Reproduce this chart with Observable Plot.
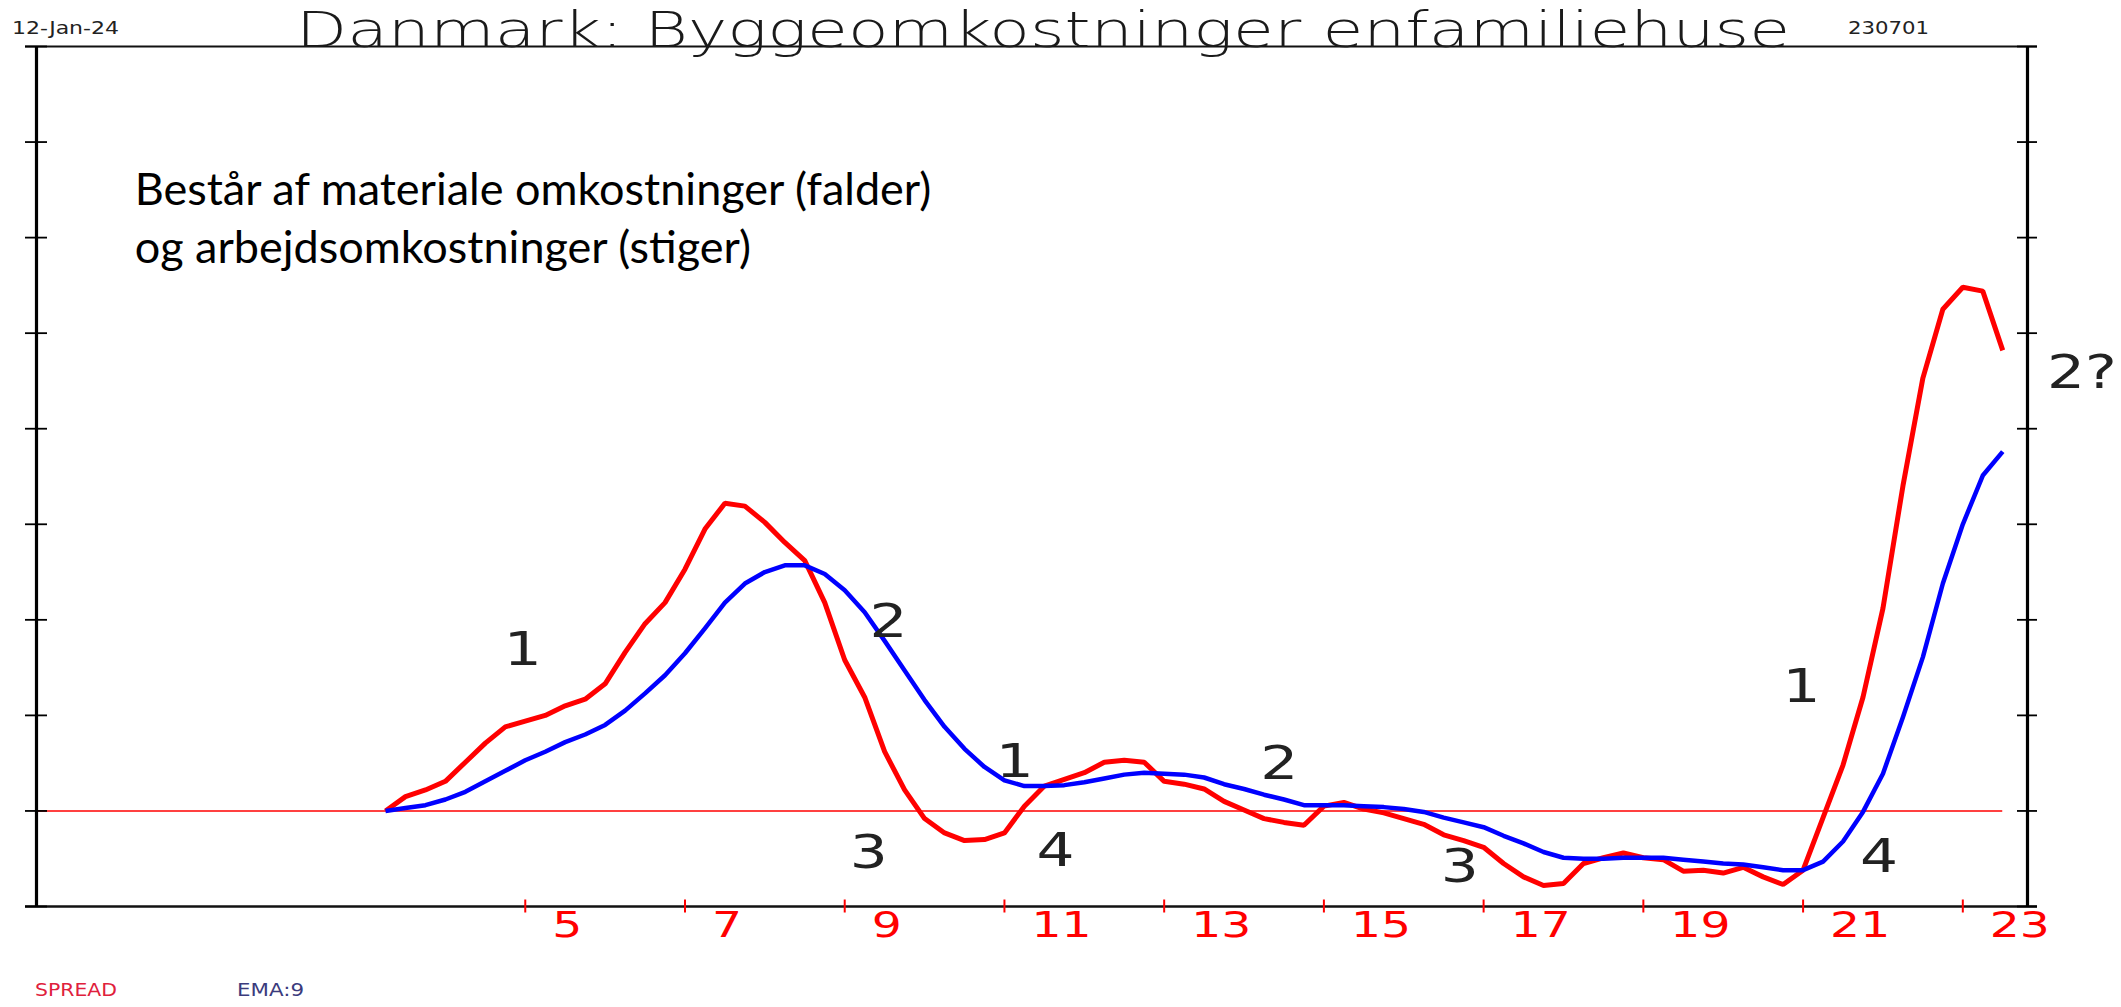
<!DOCTYPE html>
<html>
<head>
<meta charset="utf-8">
<script src="https://cdn.jsdelivr.net/npm/d3@7"></script>
<script src="https://cdn.jsdelivr.net/npm/@observablehq/plot@0.6"></script>
<style>
  html, body { margin: 0; padding: 0; background: #fff; }
  #page { position: relative; width: 2121px; height: 1007px; overflow: hidden; background: #fff; }
  #chart { position: absolute; left: 0; top: 0; }
  .t { position: absolute; white-space: nowrap; line-height: 1; transform-origin: 0 0; }
  #date { left: 12px; top: 18px; font: 17px "DejaVu Sans"; color: #222; }
  #title { left: 296px; top: 1px; font: 300 50px "DejaVu Sans"; color: #1a1a1a; }
  #code { left: 1848px; top: 18px; font: 17px "DejaVu Sans"; color: #222; }
  #leg1 { left: 35px; top: 980px; font: 17px "DejaVu Sans"; color: #e0203c; }
  #leg2 { left: 237px; top: 980px; font: 17px "DejaVu Sans"; color: #3b3b7d; }
</style>
</head>
<body>
<div id="page">
  <div id="chart"></div>
  <div class="t" id="date">12-Jan-24</div>
  <div class="t" id="title">Danmark: Byggeomkostninger enfamiliehuse</div>
  <div class="t" id="code">230701</div>
  <div class="t" id="leg1">SPREAD</div>
  <div class="t" id="leg2">EMA:9</div>
</div>
<script>
// Quarterly data, 2003 Q2 .. 2023 Q3
const firstQuarter = 2003.25;
const lastQuarter = 2023.5;

const spread = [
  0.00, 0.15, 0.22, 0.31, 0.51, 0.71, 0.88, 0.94, 1.00, 1.10,
  1.17, 1.33, 1.66, 1.96, 2.18, 2.53, 2.95, 3.22, 3.19, 3.02,
  2.81, 2.62, 2.18, 1.58, 1.19, 0.62, 0.22, -0.08, -0.23, -0.31,
  -0.30, -0.23, 0.05, 0.26, 0.33, 0.40, 0.51, 0.53, 0.51, 0.31,
  0.28, 0.23, 0.10, 0.01, -0.08, -0.12, -0.15, 0.05, 0.09, 0.02,
  -0.02, -0.08, -0.14, -0.25, -0.31, -0.38, -0.55, -0.69, -0.78, -0.76,
  -0.55, -0.49, -0.44, -0.49, -0.51, -0.63, -0.62, -0.65, -0.59, -0.69,
  -0.77, -0.62, -0.07, 0.48, 1.19, 2.12, 3.40, 4.53, 5.25, 5.48,
  5.44, 4.82
];

const ema9 = [
  0.00, 0.03, 0.06, 0.12, 0.20, 0.31, 0.42, 0.53, 0.62, 0.72,
  0.80, 0.90, 1.05, 1.23, 1.42, 1.65, 1.91, 2.18, 2.38, 2.50,
  2.57, 2.57, 2.48, 2.31, 2.08, 1.78, 1.47, 1.16, 0.88, 0.65,
  0.46, 0.32, 0.26, 0.26, 0.27, 0.30, 0.34, 0.38, 0.40, 0.39,
  0.38, 0.35, 0.28, 0.23, 0.17, 0.12, 0.06, 0.06, 0.06, 0.05,
  0.04, 0.02, -0.01, -0.07, -0.12, -0.17, -0.26, -0.34, -0.43, -0.49,
  -0.50, -0.50, -0.49, -0.49, -0.49, -0.51, -0.53, -0.55, -0.56, -0.59,
  -0.62, -0.62, -0.53, -0.32, -0.01, 0.39, 0.98, 1.61, 2.38, 3.00,
  3.51, 3.76
];

const yearTicks = [2005, 2007, 2009, 2011, 2013, 2015, 2017, 2019, 2021, 2023];
const yTicks = [-1, 0, 1, 2, 3, 4, 5, 6, 7, 8];
const xDomain = [1998.88, 2023.81];
const yDomain = [-1, 8];

const waveYears  = [2004.97, 2009.55, 2009.30, 2011.13, 2011.64, 2014.44, 2016.70, 2020.98, 2021.95, 2024.49];
const waveValues = [1.68, 1.97, -0.445, 0.51, -0.42, 0.49, -0.59, 1.29, -0.49, 4.58];
const waveTexts  = ["1", "2", "3", "1", "4", "2", "3", "1", "4", "2?"];

const noteLines = ["Består af materiale omkostninger (falder)", "og arbejdsomkostninger (stiger)"];
const notePos = {year: 2000.11, value: 6.237};

const rows = spread.map((v, i) => ({t: firstQuarter + i / 4, spread: v, ema: ema9[i]}));
const waves = waveTexts.map((s, i) => ({year: waveYears[i], value: waveValues[i], label: s}));

const chart = Plot.plot({
  width: 2121,
  height: 960,
  marginTop: 46,
  marginBottom: 54,
  marginLeft: 36,
  marginRight: 94,
  x: {domain: xDomain, axis: null},
  y: {domain: yDomain, axis: null},
  style: {background: "transparent", fontFamily: "DejaVu Sans", overflow: "visible"},
  marks: [
    Plot.ruleY([0], {x1: () => xDomain[0], x2: () => lastQuarter, stroke: "#ff0000", strokeWidth: 1.6}),
    Plot.line(rows, {x: "t", y: "spread", stroke: "#ff0000", strokeWidth: 5, strokeLinejoin: "miter", strokeLinecap: "butt"}),
    Plot.line(rows, {x: "t", y: "ema", stroke: "#0000ff", strokeWidth: 4.5, strokeLinejoin: "round", strokeLinecap: "butt"}),
    // frame
    Plot.ruleY([yDomain[1]], {stroke: "#111", strokeWidth: 1.8, insetLeft: -11, insetRight: -10}),
    Plot.ruleY([yDomain[0]], {stroke: "#111", strokeWidth: 2.6, insetLeft: -11, insetRight: -10}),
    Plot.ruleX([xDomain[0]], {stroke: "#000", strokeWidth: 3.2}),
    Plot.ruleX([xDomain[1]], {stroke: "#000", strokeWidth: 3.2}),
    // y ticks on both axes
    Plot.ruleY(yTicks, {x1: () => xDomain[0], x2: () => xDomain[0], insetLeft: -11, insetRight: -11, stroke: "#000", strokeWidth: 1.8}),
    Plot.ruleY(yTicks, {x1: () => xDomain[1], x2: () => xDomain[1], insetLeft: -10, insetRight: -10, stroke: "#000", strokeWidth: 1.8}),
    // x ticks (red) and labels
    Plot.ruleX(yearTicks, {y1: () => yDomain[0], y2: () => yDomain[0], insetTop: -6.5, insetBottom: -6.5, stroke: "#ff0000", strokeWidth: 2}),
    Plot.text(yearTicks, {x: d => d, y: () => yDomain[0], text: d => String(d % 100), textAnchor: "start", dx: 27, dy: 19, fill: "#ff0000", fontSize: 35}),
    // wave annotations
    Plot.text(waves, {x: "year", y: "value", text: "label", fontSize: 46, fill: "#222"}),
    // note
    Plot.text([noteLines.join("\n")], {x: () => notePos.year, y: () => notePos.value, text: d => d, textAnchor: "start", lineAnchor: "middle", lineHeight: 1.29, fontSize: 45, fontFamily: "Lato", fill: "#000"})
  ]
});
document.getElementById("chart").appendChild(chart);

// widen the geometric-style glyphs horizontally (year labels, wave labels)
const textGroups = chart.querySelectorAll('g[aria-label="text"]');
function stretch(group, sx) {
  if (!group) return;
  group.querySelectorAll("text").forEach(t => {
    const tr = t.getAttribute("transform");
    if (tr) {
      t.setAttribute("transform", tr + ` scale(${sx},1)`);
    } else {
      const x = +t.getAttribute("x") || 0, y = +t.getAttribute("y") || 0;
      t.removeAttribute("x"); t.removeAttribute("y");
      t.setAttribute("transform", `translate(${x},${y}) scale(${sx},1)`);
    }
  });
}
stretch(textGroups[0], 1.35);
stretch(textGroups[1], 1.3);

function fitScale(id, target) {
  const el = document.getElementById(id);
  const w = el.getBoundingClientRect().width;
  el.style.transform = `scaleX(${target / w})`;
}
fitScale("title", 1494);
fitScale("date", 107);
fitScale("code", 81);
fitScale("leg1", 82);
fitScale("leg2", 67);
</script>
</body>
</html>
